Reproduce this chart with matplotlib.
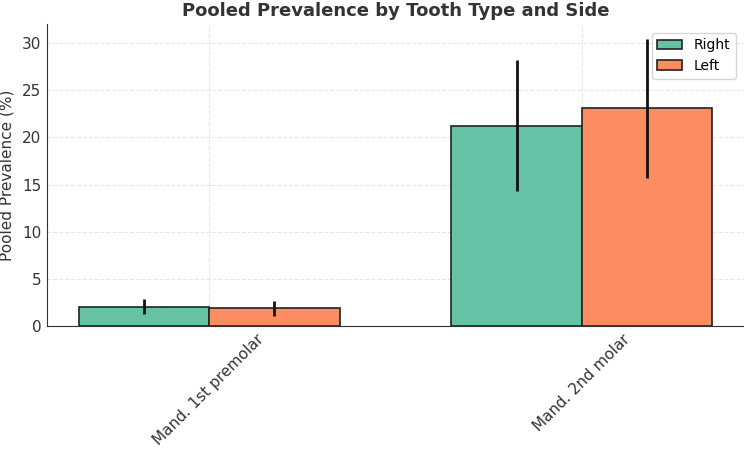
import numpy as np
import matplotlib.pyplot as plt

# Pooled prevalence (%) with 95% CI
teeth = ["Mand. 1st premolar", "Mand. 2nd molar"]
right_prev = [2.0, 21.2]
right_low = [1.3, 14.3]
right_high = [2.85, 28.2]
left_prev = [1.9, 23.1]
left_low = [1.1, 15.7]
left_high = [2.65, 30.45]

x = np.arange(len(teeth))
width = 0.35

fig, ax = plt.subplots(figsize=(7.44, 4.51), dpi=100)
fig.subplots_adjust(left=0.063, right=1.0, bottom=0.277, top=0.946)

right_err = [np.subtract(right_prev, right_low), np.subtract(right_high, right_prev)]
left_err = [np.subtract(left_prev, left_low), np.subtract(left_high, left_prev)]

ax.bar(x - width / 2, right_prev, width, yerr=right_err, color="#66c2a5",
       edgecolor="#222222", linewidth=1.2, label="Right",
       error_kw=dict(ecolor="#111111", elinewidth=2, capsize=0))
ax.bar(x + width / 2, left_prev, width, yerr=left_err, color="#fc8d62",
       edgecolor="#222222", linewidth=1.2, label="Left",
       error_kw=dict(ecolor="#111111", elinewidth=2, capsize=0))

ax.set_xticks(x)
ax.set_xticklabels(teeth, rotation=45, fontsize=11, color="#333333")
ax.tick_params(axis="both", length=0, pad=4, colors="#333333")
ax.tick_params(axis="y", labelsize=11)
ax.set_ylabel("Pooled Prevalence (%)", fontsize=11, color="#333333", labelpad=5)
ax.set_title("Pooled Prevalence by Tooth Type and Side", fontsize=13,
             fontweight="bold", color="#333333", pad=6)

ax.grid(True, linestyle="--", alpha=0.3)
ax.set_axisbelow(True)
for side in ["top", "right"]:
    ax.spines[side].set_visible(False)
for side in ["left", "bottom"]:
    ax.spines[side].set_color("#333333")

ax.legend(loc="upper right", fontsize=10, handlelength=1.8, borderaxespad=0.6)

plt.savefig("out.png")
